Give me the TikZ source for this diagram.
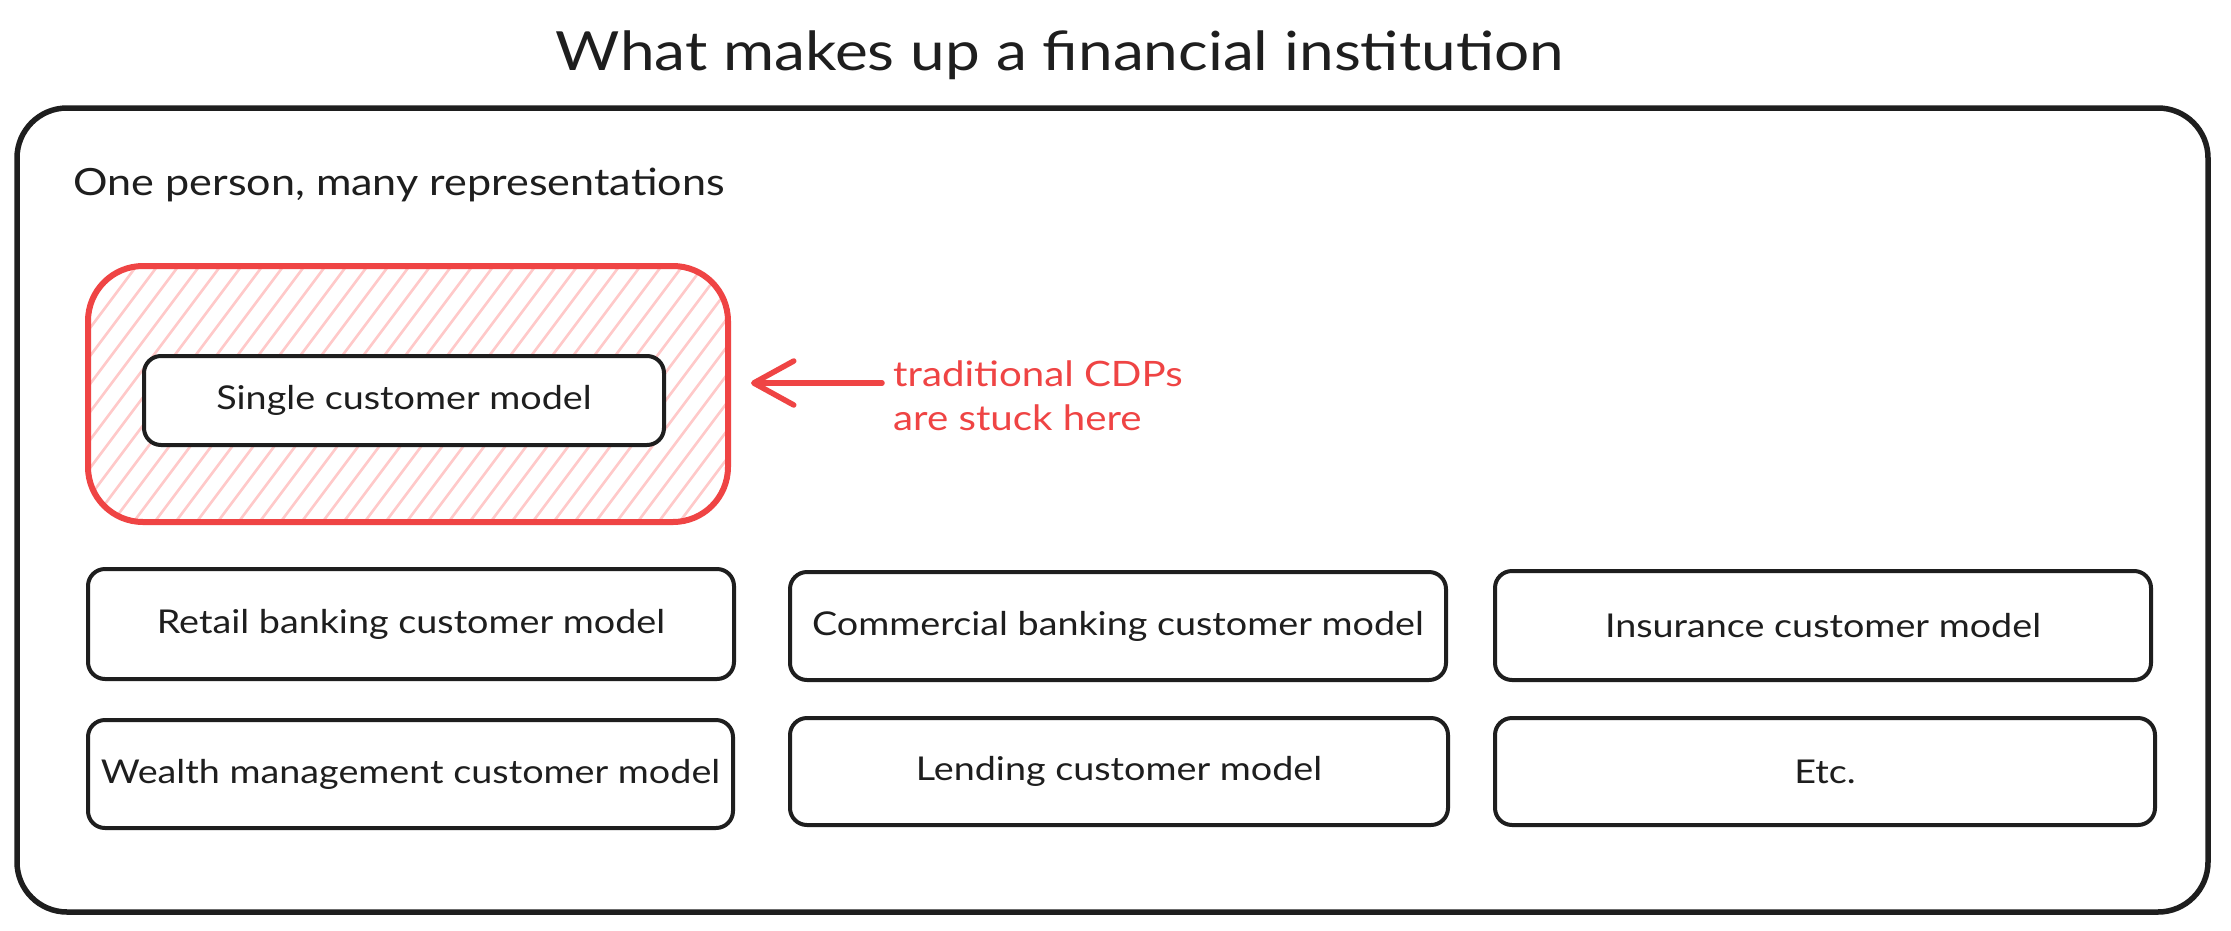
\documentclass[tikz,border=0pt]{standalone}
\usepackage{fontspec}
\setmainfont[FakeStretch=1.15]{Lato}
\usetikzlibrary{arrows.meta}
\definecolor{ink}{HTML}{1E1E1E}
\definecolor{redline}{HTML}{EF4444}
\definecolor{hatch}{HTML}{FFC9C9}
\begin{document}
\begin{tikzpicture}[x=1pt,y=-1pt,
  model/.style={draw=ink,line width=4pt,rounded corners=17pt,fill=white,
    inner sep=0pt,font=\fontsize{32.8}{40}\selectfont,text=ink},
  outerbox/.style={draw=ink,line width=5.5pt,rounded corners=50pt,inner sep=0pt},
  redbox/.style={draw=redline,line width=6pt,rounded corners=55pt,inner sep=0pt},
  redarrow/.style={draw=redline,line width=5.5pt,line cap=round,
    -{Straight Barb[length=40pt,width=44pt,line cap=round,line join=round]}}]
\useasboundingbox (0,0) rectangle (2231,930);
\fill[white] (0,0) rectangle (2231,930);

\node[font=\fontsize{54}{64}\selectfont,text=ink] (title) at (1060,55) {What makes up a financial institution};

\node[outerbox,minimum width=2191pt,minimum height=804pt] (outer) at (1112.5,510) {};
\node[anchor=west,font=\fontsize{37.5}{44}\selectfont,text=ink] (sub) at (70,185) {One person, many representations};

% hatched red box
\begin{scope}
  \clip[rounded corners=55pt] (88,266) rectangle (728,522);
  \foreach \i in {-20,...,40} {
    \draw[hatch,line width=2.6pt] (\i*21,560) -- ++(300,-400);
  }
\end{scope}
\node[redbox,minimum width=640pt,minimum height=256pt] (red) at (408,394) {};

\node[model,minimum width=520pt,minimum height=89pt] (single) at (404,400.5) {Single customer model};

\coordinate (tail) at (882,383);
\coordinate (tip) at (751,383);
\draw[redarrow] (tail) -- (tip);
\node[anchor=west,align=left,text=redline,font=\fontsize{35}{44}\selectfont,inner sep=0pt] (cdp) at (893,396) {traditional CDPs\\are stuck here};

\node[model,minimum width=646pt,minimum height=110pt] (retail) at (411,624) {Retail banking customer model};
\node[model,minimum width=656pt,minimum height=108pt] (commercial) at (1118,626) {Commercial banking customer model};
\node[model,minimum width=656pt,minimum height=109pt] (insurance) at (1823,625.5) {Insurance customer model};
\node[model,minimum width=645pt,minimum height=108pt] (wealth) at (410.5,774) {Wealth management customer model};
\node[model,minimum width=658pt,minimum height=107pt] (lending) at (1119,771.5) {Lending customer model};
\node[model,minimum width=660pt,minimum height=107pt] (etc) at (1825,771.5) {Etc.};
\end{tikzpicture}
\end{document}
